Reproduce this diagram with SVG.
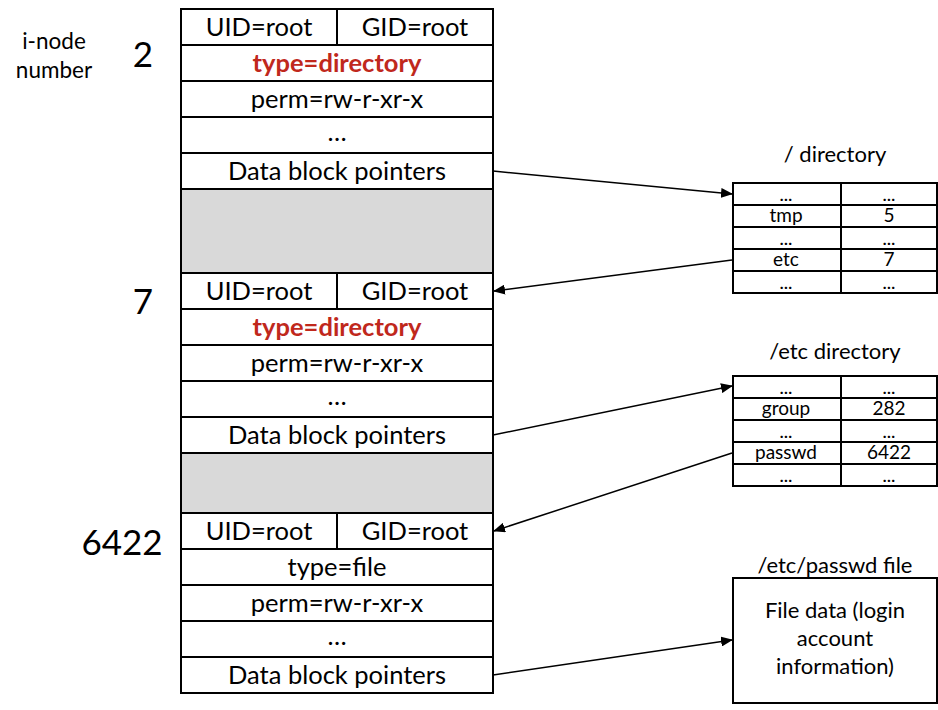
<svg xmlns="http://www.w3.org/2000/svg" width="938" height="710" viewBox="0 0 938 710">
<style>
text{font-family:Lato,"Liberation Sans",Arial,sans-serif;fill:#000;text-anchor:middle}
.c{stroke:#000;stroke-width:2;fill:#fff}
.g{stroke:#000;stroke-width:2;fill:#d9d9d9}
.r{font-size:25.5px}
.red{font-size:25.5px;font-weight:bold;fill:#c0281c}
.t{font-size:19px}
.e{font-size:16px;font-weight:bold}
.h{font-size:22px}
.n{font-size:35px}
.l{font-size:22.5px}
.a{stroke:#000;stroke-width:1.5;fill:none;marker-end:url(#ah)}
</style>
<defs>
<marker id="ah" markerWidth="12" markerHeight="10" refX="11" refY="5" orient="auto" markerUnits="userSpaceOnUse">
<path d="M0,0 L12,5 L0,10 z" fill="#000"/>
</marker>
</defs>
<g id="labels">
<text class="l" x="54" y="49">i-node</text>
<text class="l" x="54" y="78">number</text>
<text class="n" x="143" y="67">2</text>
<text class="n" x="143" y="314">7</text>
<text class="n" x="122" y="555">6422</text>
</g>
<g id="inode2">
<rect class="c" x="181" y="9" width="312" height="36"/>
<line x1="337" y1="9" x2="337" y2="45" stroke="#000" stroke-width="2"/>
<rect class="c" x="181" y="45" width="312" height="36"/>
<rect class="c" x="181" y="81" width="312" height="36"/>
<rect class="c" x="181" y="117" width="312" height="36"/>
<rect class="c" x="181" y="153" width="312" height="36"/>
<text class="r" x="259" y="36">UID=root</text>
<text class="r" x="415" y="36">GID=root</text>
<text class="red" x="337" y="72">type=directory</text>
<text class="r" x="337" y="108">perm=rw-r-xr-x</text>
<text class="r" x="337" y="141">…</text>
<text class="r" x="337" y="180">Data block pointers</text>
</g>
<rect id="gap1" class="g" x="181" y="189" width="312" height="84"/>
<g id="inode7">
<rect class="c" x="181" y="273" width="312" height="36"/>
<line x1="337" y1="273" x2="337" y2="309" stroke="#000" stroke-width="2"/>
<rect class="c" x="181" y="309" width="312" height="36"/>
<rect class="c" x="181" y="345" width="312" height="36"/>
<rect class="c" x="181" y="381" width="312" height="36"/>
<rect class="c" x="181" y="417" width="312" height="36"/>
<text class="r" x="259" y="300">UID=root</text>
<text class="r" x="415" y="300">GID=root</text>
<text class="red" x="337" y="336">type=directory</text>
<text class="r" x="337" y="372">perm=rw-r-xr-x</text>
<text class="r" x="337" y="405">…</text>
<text class="r" x="337" y="444">Data block pointers</text>
</g>
<rect id="gap2" class="g" x="181" y="453" width="312" height="60"/>
<g id="inode6422">
<rect class="c" x="181" y="513" width="312" height="36"/>
<line x1="337" y1="513" x2="337" y2="549" stroke="#000" stroke-width="2"/>
<rect class="c" x="181" y="549" width="312" height="36"/>
<rect class="c" x="181" y="585" width="312" height="36"/>
<rect class="c" x="181" y="621" width="312" height="36"/>
<rect class="c" x="181" y="657" width="312" height="36"/>
<text class="r" x="259" y="540">UID=root</text>
<text class="r" x="415" y="540">GID=root</text>
<text class="r" x="337" y="576">type=file</text>
<text class="r" x="337" y="612">perm=rw-r-xr-x</text>
<text class="r" x="337" y="645">…</text>
<text class="r" x="337" y="684">Data block pointers</text>
</g>
<g id="rootdir">
<text class="h" x="835" y="162">/ directory</text>
<rect class="c" x="733" y="183" width="204" height="110"/>
<line x1="733" y1="205" x2="937" y2="205" stroke="#000" stroke-width="2"/>
<line x1="733" y1="227" x2="937" y2="227" stroke="#000" stroke-width="2"/>
<line x1="733" y1="249" x2="937" y2="249" stroke="#000" stroke-width="2"/>
<line x1="733" y1="271" x2="937" y2="271" stroke="#000" stroke-width="2"/>
<line x1="841" y1="183" x2="841" y2="293" stroke="#000" stroke-width="2"/>
<text class="e" x="786" y="201">…</text><text class="e" x="889" y="201">…</text>
<text class="t" x="786" y="222">tmp</text><text class="t" x="889" y="222">5</text>
<text class="e" x="786" y="245">…</text><text class="e" x="889" y="245">…</text>
<text class="t" x="786" y="266">etc</text><text class="t" x="889" y="266">7</text>
<text class="e" x="786" y="289">…</text><text class="e" x="889" y="289">…</text>
</g>
<g id="etcdir">
<text class="h" x="835" y="359">/etc directory</text>
<rect class="c" x="733" y="376" width="204" height="110"/>
<line x1="733" y1="398" x2="937" y2="398" stroke="#000" stroke-width="2"/>
<line x1="733" y1="420" x2="937" y2="420" stroke="#000" stroke-width="2"/>
<line x1="733" y1="442" x2="937" y2="442" stroke="#000" stroke-width="2"/>
<line x1="733" y1="464" x2="937" y2="464" stroke="#000" stroke-width="2"/>
<line x1="841" y1="376" x2="841" y2="486" stroke="#000" stroke-width="2"/>
<text class="e" x="786" y="394">…</text><text class="e" x="889" y="394">…</text>
<text class="t" x="786" y="415">group</text><text class="t" x="889" y="415">282</text>
<text class="e" x="786" y="438">…</text><text class="e" x="889" y="438">…</text>
<text class="t" x="786" y="459">passwd</text><text class="t" x="889" y="459">6422</text>
<text class="e" x="786" y="482">…</text><text class="e" x="889" y="482">…</text>
</g>
<g id="passwdfile">
<text class="h" x="835" y="573">/etc/passwd file</text>
<rect class="c" x="733" y="578" width="204" height="125"/>
<text class="h" x="835" y="618">File data (login</text>
<text class="h" x="835" y="646">account</text>
<text class="h" x="835" y="674">information)</text>
</g>
<g id="connectors">
<line class="a" x1="493" y1="171" x2="732" y2="194"/>
<line class="a" x1="732" y1="260" x2="494" y2="291"/>
<line class="a" x1="493" y1="435" x2="732" y2="386"/>
<line class="a" x1="732" y1="453" x2="494" y2="531"/>
<line class="a" x1="493" y1="675" x2="732" y2="640"/>
</g>
</svg>
